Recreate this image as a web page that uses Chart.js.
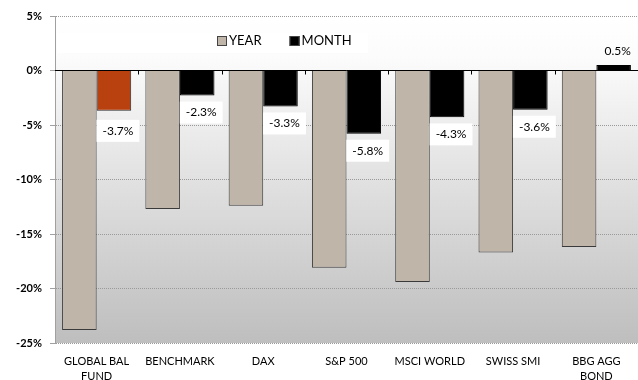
<!DOCTYPE html>
<html>
<head>
<meta charset="utf-8">
<script src="https://cdn.jsdelivr.net/npm/chart.js@4.4.1/dist/chart.umd.min.js"></script>
<style>
  html, body { margin: 0; padding: 0; background: #fff; }
  #wrap { width: 638px; height: 380px; }
</style>
</head>
<body>
<div id="wrap"><canvas id="chart"></canvas></div>
<script>
// data
const categories = [['GLOBAL BAL', 'FUND'], 'BENCHMARK', 'DAX', 'S&P 500', 'MSCI WORLD', 'SWISS SMI', ['BBG AGG', 'BOND']];
const yearValues = [-23.8, -12.7, -12.4, -18.1, -19.4, -16.7, -16.2];
const monthValues = [-3.7, -2.3, -3.3, -5.8, -4.3, -3.6, 0.5];
const seriesNames = ['YEAR', 'MONTH'];
const yMin = -25, yMax = 5, yStep = 5;

const FONT = "Lato, 'Open Sans', sans-serif";
const yearColor = '#bfb5a9';
const monthColors = monthValues.map((v, i) => i === 0 ? '#b8410f' : '#000000');
const monthBorders = monthValues.map((v, i) => i === 0 ? '#2b2b2b' : '#000000');

// grey gradient behind the plot area
const bgPlugin = {
    id: 'plotBg',
    beforeDraw(chart) {
        const { ctx, chartArea: a } = chart;
        const g = ctx.createLinearGradient(0, a.top, 0, a.bottom);
        g.addColorStop(0, '#ffffff');
        g.addColorStop(0.12, '#fcfcfc');
        g.addColorStop(1, '#bebebe');
        ctx.save();
        ctx.fillStyle = g;
        ctx.fillRect(a.left, a.top, a.right - a.left, a.bottom - a.top);
        ctx.restore();
    }
};

// solid zero line with small category ticks, plus month value labels
const zeroAndLabels = {
    id: 'zeroAndLabels',
    afterDatasetsDraw(chart) {
        const { ctx, chartArea: a, scales } = chart;
        const y0 = Math.round(scales.y.getPixelForValue(0)) + 0.5;
        ctx.save();
        ctx.strokeStyle = '#000';
        ctx.lineWidth = 1;
        ctx.beginPath();
        ctx.moveTo(a.left, y0);
        ctx.lineTo(a.right, y0);
        const step = (a.right - a.left) / categories.length;
        for (let i = 1; i < categories.length; i++) {
            const x = Math.round(a.left + step * i) + 0.5;
            ctx.moveTo(x, y0);
            ctx.lineTo(x, y0 + 4);
        }
        ctx.stroke();

        const meta = chart.getDatasetMeta(1);
        ctx.font = '12px ' + FONT;
        ctx.textAlign = 'center';
        ctx.textBaseline = 'middle';
        meta.data.forEach((el, i) => {
            const v = monthValues[i];
            const txt = v.toFixed(1) + '%';
            const cx = el.x + 4;
            const cy = v < 0 ? el.y + (i === 0 ? 20 : 17) : el.y - 14;
            const w = ctx.measureText(txt).width + 12;
            const h = 22;
            if (v < 0) {
                ctx.fillStyle = '#ffffff';
                ctx.fillRect(cx - w / 2, cy - h / 2, w, h);
            }
            ctx.fillStyle = '#000';
            ctx.fillText(txt, cx, cy);
        });
        ctx.restore();
    }
};

// legend drawn inside the plot, like the original
const legendPlugin = {
    id: 'innerLegend',
    afterDraw(chart) {
        const { ctx, chartArea: a } = chart;
        const ds = chart.data.datasets;
        ctx.save();
        ctx.fillStyle = '#ffffff';
        ctx.fillRect(a.left + 2, 33, 311, 20);
        ctx.font = '13px ' + FONT;
        ctx.textBaseline = 'middle';
        ctx.textAlign = 'left';
        const cy = 41;
        let x = a.left + 162;
        ds.forEach((d, i) => {
            const fill = Array.isArray(d.backgroundColor) ? d.backgroundColor[1] : d.backgroundColor;
            ctx.fillStyle = fill;
            ctx.fillRect(x, cy - 5, 10, 10);
            ctx.strokeStyle = '#444';
            ctx.lineWidth = 1;
            ctx.strokeRect(x + 0.5, cy - 4.5, 9, 9);
            ctx.fillStyle = '#000';
            ctx.fillText(d.label, x + 12, cy);
            x += 12 + ctx.measureText(d.label).width + 28;
        });
        ctx.restore();
    }
};

new Chart(document.getElementById('chart'), {
    type: 'bar',
    data: {
        labels: categories,
        datasets: [{
            label: seriesNames[0],
            data: yearValues,
            backgroundColor: yearColor,
            borderColor: '#3a3a3a',
            borderWidth: 1
        }, {
            label: seriesNames[1],
            data: monthValues,
            backgroundColor: monthColors,
            borderColor: monthBorders,
            borderWidth: 1
        }]
    },
    options: {
        responsive: true,
        maintainAspectRatio: false,
        animation: false,
        layout: { padding: { top: 16, right: 0, left: 0, bottom: 0 } },
        datasets: { bar: { categoryPercentage: 0.83, barPercentage: 1 } },
        plugins: {
            legend: { display: false },
            tooltip: { enabled: false }
        },
        scales: {
            x: {
                grid: { display: false, drawTicks: false },
                border: { display: false },
                ticks: {
                    color: '#000',
                    padding: 10,
                    maxRotation: 0,
                    autoSkip: false,
                    font: { family: FONT, size: 11, lineHeight: 1.45 }
                },
                afterFit(scale) { scale.height = 37; }
            },
            y: {
                min: yMin,
                max: yMax,
                grid: { color: '#999999', tickColor: '#a0a0a0', tickLength: 5 },
                border: { color: '#a0a0a0', dash: [1, 1] },
                ticks: {
                    stepSize: yStep,
                    padding: 8,
                    color: '#000',
                    font: { family: FONT, size: 11, weight: 'bold' },
                    callback: v => v + '%'
                },
                afterFit(scale) { scale.width = 55; }
            }
        }
    },
    plugins: [bgPlugin, zeroAndLabels, legendPlugin]
});
</script>
</body>
</html>
